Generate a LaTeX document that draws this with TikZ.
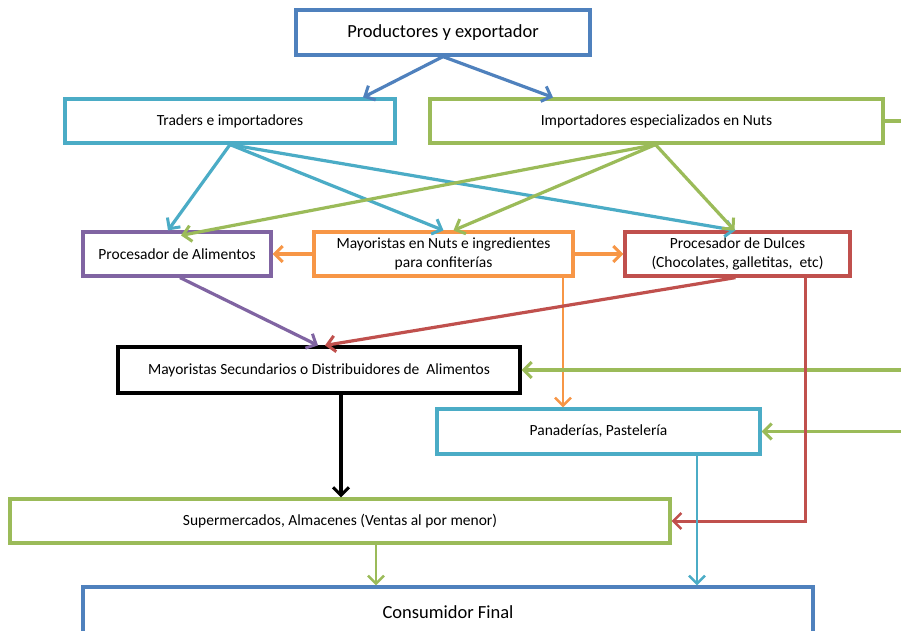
\documentclass[tikz,border=0pt]{standalone}
\usepackage{fontspec}
\setmainfont{Carlito}
\usetikzlibrary{arrows.meta}
\definecolor{cblue}{HTML}{4F81BD}
\definecolor{ccyan}{HTML}{4BACC6}
\definecolor{cgreen}{HTML}{9BBB59}
\definecolor{cpurple}{HTML}{8064A2}
\definecolor{corange}{HTML}{F79646}
\definecolor{cred}{HTML}{C0504D}
\tikzset{
  box/.style={draw,line width=3.2pt,fill=white,align=center,inner sep=2pt,font=\fontsize{15.5}{18.5}\selectfont},
  bigbox/.style={box,font=\fontsize{18.5}{22}\selectfont},
  conn/.style={line width=3.2pt,-{Straight Barb[length=8pt,width=16pt,line width=3pt]}},
  thinconn/.style={line width=2.5pt,-{Straight Barb[length=8pt,width=16pt,line width=2.5pt]}},
}
\begin{document}
\begin{tikzpicture}[x=1pt,y=-1pt]
\useasboundingbox (0,0) rectangle (901,630);
\clip (0,0) rectangle (901,630);
\fill[white] (0,0) rectangle (901,630);

\node[bigbox,draw=cblue,minimum width=294pt,minimum height=45pt] (prod) at (443,32.5) {Productores y exportador};
\node[box,draw=ccyan,minimum width=330pt,minimum height=44pt] (trad) at (230,121) {Traders e importadores};
\node[box,draw=cgreen,minimum width=453pt,minimum height=44pt] (imp) at (656.5,121) {Importadores especializados en Nuts};
\node[box,draw=cpurple,minimum width=188pt,minimum height=44pt] (palim) at (177,254) {Procesador de Alimentos};
\node[box,draw=corange,minimum width=259pt,minimum height=44pt] (mnuts) at (443.5,254) {Mayoristas en Nuts e ingredientes\\para confiterías};
\node[box,draw=cred,minimum width=225pt,minimum height=44pt] (pdulc) at (737.5,254) {Procesador de Dulces\\(Chocolates, galletitas,\ \ etc)};
\node[box,draw=black,minimum width=402pt,minimum height=46pt] (msec) at (319,370) {Mayoristas Secundarios o Distribuidores de\ \ Alimentos};
\node[box,draw=ccyan,minimum width=323pt,minimum height=45pt] (pan) at (598.5,431.5) {Panaderías, Pastelería};
\node[box,draw=cgreen,minimum width=660pt,minimum height=44pt] (super) at (340,521) {Supermercados, Almacenes (Ventas al por menor)};
\node[bigbox,draw=cblue,minimum width=730pt,minimum height=50pt] (cons) at (448,612) {Consumidor Final};

\coordinate (r0) at (901,121);
\coordinate (r1) at (901,370);
\coordinate (r2) at (901,431.5);

% level 1
\draw[conn,cblue] (prod.south) -- ([xshift=133pt]trad.north);
\draw[conn,cblue] (prod.south) -- ([xshift=-103.5pt]imp.north);
\draw[line width=3.2pt,cgreen] (imp.east) -- (r0);

% traders
\draw[conn,ccyan] (trad.south) -- ([xshift=-9pt]palim.north);
\draw[conn,ccyan] (trad.south) -- (mnuts.north);
\draw[conn,ccyan] (trad.south) -- ([xshift=-2pt]pdulc.north);

% importadores
\draw[conn,cgreen] ([xshift=-1pt]imp.south) -- ([xshift=4pt,yshift=-5pt]palim.north);
\draw[conn,cgreen] ([xshift=-1pt]imp.south) -- ([xshift=10pt]mnuts.north);
\draw[conn,cgreen] ([xshift=-1pt]imp.south) -- ([xshift=-3pt]pdulc.north);

% mayoristas nuts
\draw[conn,corange] (mnuts.west) -- (palim.east);
\draw[conn,corange] (mnuts.east) -- (pdulc.west);
\draw[thinconn,corange] ([xshift=119.5pt]mnuts.south) -- ([xshift=-35.5pt]pan.north);

% to mayoristas secundarios
\draw[conn,cpurple] ([xshift=3pt]palim.south) -- ([xshift=-1pt]msec.north);
\draw[conn,cred] ([xshift=-2pt]pdulc.south) -- ([xshift=6pt]msec.north);
\draw[conn,cgreen] (r1) -- (msec.east);
\draw[conn,cgreen] (r2) -- (pan.east);
\draw[thinconn,cred,line width=3pt] ([xshift=67.5pt]pdulc.south) |- (super.east);

% lower
\draw[conn,black] ([xshift=22pt]msec.south) -- ([xshift=1pt]super.north);
\draw[thinconn,ccyan] ([xshift=98.5pt]pan.south) -- ([xshift=249pt]cons.north);
\draw[thinconn,cgreen] ([xshift=36pt]super.south) -- ([xshift=-72pt]cons.north);
\end{tikzpicture}
\end{document}
